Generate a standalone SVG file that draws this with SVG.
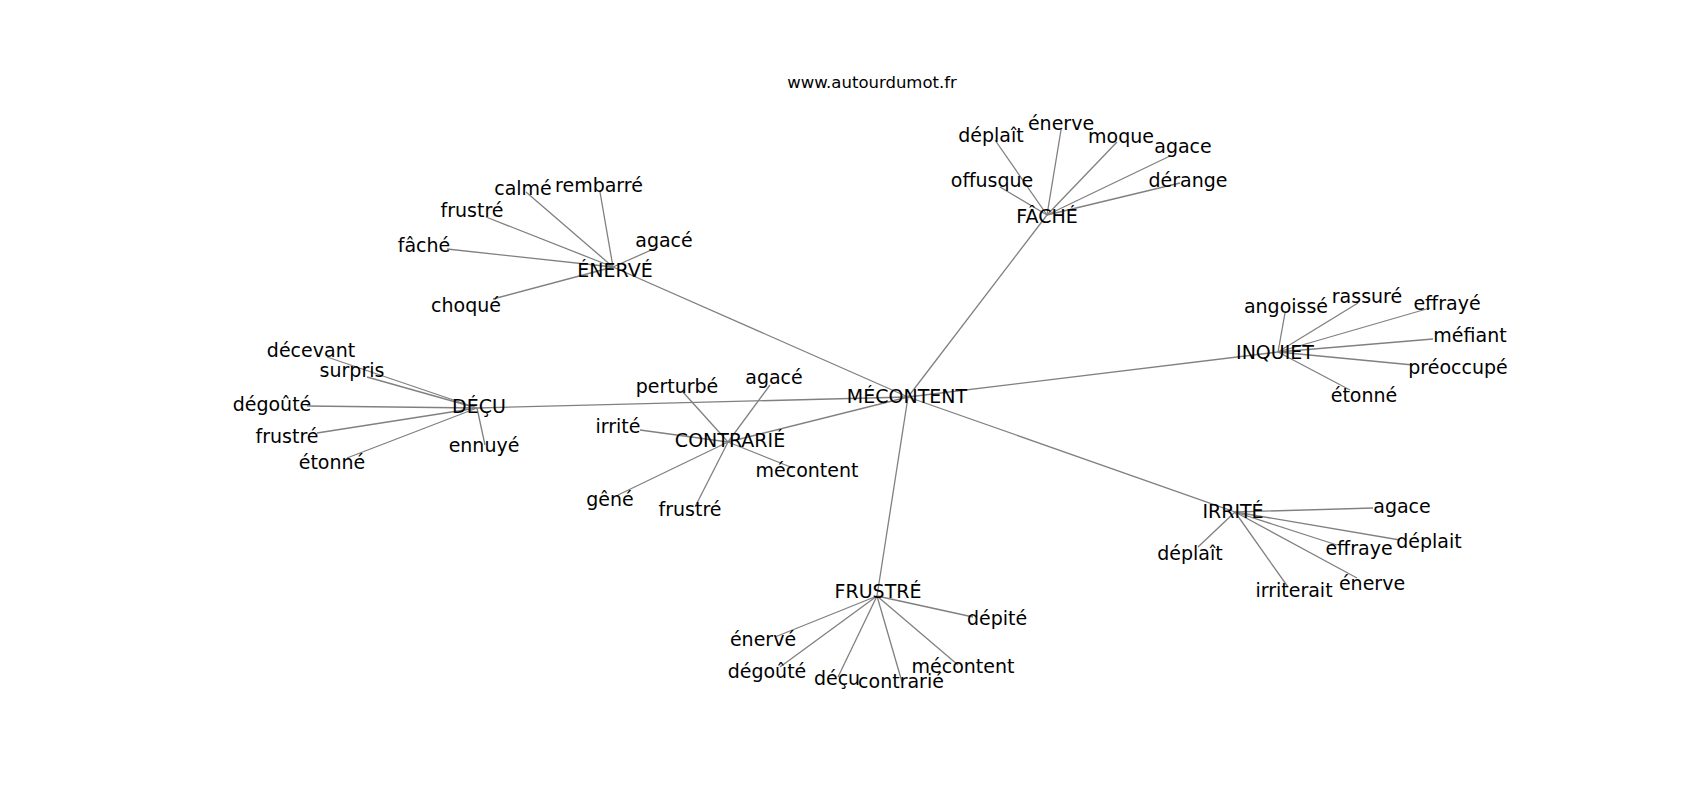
<svg xmlns="http://www.w3.org/2000/svg" width="1700" height="800" viewBox="0 0 1700 800">
<style>
.e{stroke:#808080;stroke-width:1.3;fill:none}
.t{font-family:"DejaVu Sans",sans-serif;font-size:19px;fill:#000;text-anchor:middle}
.title{font-family:"DejaVu Sans",sans-serif;font-size:16.5px;fill:#000;text-anchor:middle}
</style>
<rect width="1700" height="800" fill="#fff"/>
<text class="title" x="872" y="88">www.autourdumot.fr</text>
<g id="edges">
<line class="e" x1="908" y1="397" x2="613" y2="267"/>
<line class="e" x1="908" y1="397" x2="1047" y2="215"/>
<line class="e" x1="908" y1="397" x2="477" y2="408"/>
<line class="e" x1="908" y1="397" x2="728" y2="442"/>
<line class="e" x1="908" y1="397" x2="1278" y2="352"/>
<line class="e" x1="908" y1="397" x2="1235" y2="512"/>
<line class="e" x1="908" y1="397" x2="877" y2="596"/>
<line class="e" x1="613" y1="267" x2="526" y2="192"/>
<line class="e" x1="613" y1="267" x2="600" y2="192"/>
<line class="e" x1="613" y1="267" x2="486" y2="217"/>
<line class="e" x1="613" y1="267" x2="447" y2="249"/>
<line class="e" x1="613" y1="267" x2="658" y2="247"/>
<line class="e" x1="613" y1="267" x2="493" y2="299"/>
<line class="e" x1="1047" y1="215" x2="995" y2="140"/>
<line class="e" x1="1047" y1="215" x2="1061" y2="130"/>
<line class="e" x1="1047" y1="215" x2="1117" y2="142"/>
<line class="e" x1="1047" y1="215" x2="1170" y2="156"/>
<line class="e" x1="1047" y1="215" x2="1000" y2="187"/>
<line class="e" x1="1047" y1="215" x2="1180" y2="183"/>
<line class="e" x1="477" y1="408" x2="327" y2="357"/>
<line class="e" x1="477" y1="408" x2="367" y2="377"/>
<line class="e" x1="477" y1="408" x2="307" y2="406"/>
<line class="e" x1="477" y1="408" x2="317" y2="433"/>
<line class="e" x1="477" y1="408" x2="347" y2="458"/>
<line class="e" x1="477" y1="408" x2="485" y2="445"/>
<line class="e" x1="728" y1="442" x2="682" y2="391"/>
<line class="e" x1="728" y1="442" x2="770" y2="385"/>
<line class="e" x1="728" y1="442" x2="640" y2="430"/>
<line class="e" x1="728" y1="442" x2="793" y2="468"/>
<line class="e" x1="728" y1="442" x2="618" y2="495"/>
<line class="e" x1="728" y1="442" x2="695" y2="507"/>
<line class="e" x1="1278" y1="352" x2="1285" y2="313"/>
<line class="e" x1="1278" y1="352" x2="1358" y2="303"/>
<line class="e" x1="1278" y1="352" x2="1430" y2="308"/>
<line class="e" x1="1278" y1="352" x2="1433" y2="339"/>
<line class="e" x1="1278" y1="352" x2="1413" y2="365"/>
<line class="e" x1="1278" y1="352" x2="1350" y2="390"/>
<line class="e" x1="1235" y1="512" x2="1373" y2="508"/>
<line class="e" x1="1235" y1="512" x2="1400" y2="540"/>
<line class="e" x1="1235" y1="512" x2="1198" y2="547"/>
<line class="e" x1="1235" y1="512" x2="1337" y2="545"/>
<line class="e" x1="1235" y1="512" x2="1288" y2="587"/>
<line class="e" x1="1235" y1="512" x2="1357" y2="578"/>
<line class="e" x1="877" y1="596" x2="973" y2="617"/>
<line class="e" x1="877" y1="596" x2="775" y2="637"/>
<line class="e" x1="877" y1="596" x2="780" y2="667"/>
<line class="e" x1="877" y1="596" x2="838" y2="677"/>
<line class="e" x1="877" y1="596" x2="902" y2="682"/>
<line class="e" x1="877" y1="596" x2="958" y2="665"/>
</g>
<g id="n-mecontent"><text class="t" x="907" y="403">MÉCONTENT</text></g>
<g id="n-enerve"><text class="t" x="615" y="277">ÉNERVÉ</text></g>
<g id="n-enerve-calme"><text class="t" x="523" y="195">calmé</text></g>
<g id="n-enerve-rembarre"><text class="t" x="599" y="192">rembarré</text></g>
<g id="n-enerve-frustre"><text class="t" x="472" y="217">frustré</text></g>
<g id="n-enerve-fache"><text class="t" x="424" y="252">fâché</text></g>
<g id="n-enerve-agace"><text class="t" x="664" y="247">agacé</text></g>
<g id="n-enerve-choque"><text class="t" x="466" y="312">choqué</text></g>
<g id="n-fache"><text class="t" x="1047" y="223">FÂCHÉ</text></g>
<g id="n-fache-deplait"><text class="t" x="991" y="142">déplaît</text></g>
<g id="n-fache-enerve"><text class="t" x="1061" y="130">énerve</text></g>
<g id="n-fache-moque"><text class="t" x="1121" y="143">moque</text></g>
<g id="n-fache-agace"><text class="t" x="1183" y="153">agace</text></g>
<g id="n-fache-offusque"><text class="t" x="992" y="187">offusque</text></g>
<g id="n-fache-derange"><text class="t" x="1188" y="187">dérange</text></g>
<g id="n-decu"><text class="t" x="479" y="413">DÉÇU</text></g>
<g id="n-decu-decevant"><text class="t" x="311" y="357">décevant</text></g>
<g id="n-decu-surpris"><text class="t" x="352" y="377">surpris</text></g>
<g id="n-decu-degoute"><text class="t" x="272" y="411">dégoûté</text></g>
<g id="n-decu-frustre"><text class="t" x="287" y="443">frustré</text></g>
<g id="n-decu-etonne"><text class="t" x="332" y="469">étonné</text></g>
<g id="n-decu-ennuye"><text class="t" x="484" y="452">ennuyé</text></g>
<g id="n-contrarie"><text class="t" x="730" y="447">CONTRARIÉ</text></g>
<g id="n-contrarie-perturbe"><text class="t" x="677" y="393">perturbé</text></g>
<g id="n-contrarie-agace"><text class="t" x="774" y="384">agacé</text></g>
<g id="n-contrarie-irrite"><text class="t" x="618" y="433">irrité</text></g>
<g id="n-contrarie-mecontent"><text class="t" x="807" y="477">mécontent</text></g>
<g id="n-contrarie-gene"><text class="t" x="610" y="506">gêné</text></g>
<g id="n-contrarie-frustre"><text class="t" x="690" y="516">frustré</text></g>
<g id="n-inquiet"><text class="t" x="1275" y="359">INQUIET</text></g>
<g id="n-inquiet-angoisse"><text class="t" x="1286" y="313">angoissé</text></g>
<g id="n-inquiet-rassure"><text class="t" x="1367" y="303">rassuré</text></g>
<g id="n-inquiet-effraye"><text class="t" x="1447" y="310">effrayé</text></g>
<g id="n-inquiet-mefiant"><text class="t" x="1470" y="342">méfiant</text></g>
<g id="n-inquiet-preoccupe"><text class="t" x="1458" y="374">préoccupé</text></g>
<g id="n-inquiet-etonne"><text class="t" x="1364" y="402">étonné</text></g>
<g id="n-irrite"><text class="t" x="1233" y="518">IRRITÉ</text></g>
<g id="n-irrite-agace"><text class="t" x="1402" y="513">agace</text></g>
<g id="n-irrite-deplait"><text class="t" x="1429" y="548">déplait</text></g>
<g id="n-irrite-deplait2"><text class="t" x="1190" y="560">déplaît</text></g>
<g id="n-irrite-effraye"><text class="t" x="1359" y="555">effraye</text></g>
<g id="n-irrite-irriterait"><text class="t" x="1294" y="597">irriterait</text></g>
<g id="n-irrite-enerve"><text class="t" x="1372" y="590">énerve</text></g>
<g id="n-frustre"><text class="t" x="878" y="598">FRUSTRÉ</text></g>
<g id="n-frustre-depite"><text class="t" x="997" y="625">dépité</text></g>
<g id="n-frustre-enerve"><text class="t" x="763" y="646">énervé</text></g>
<g id="n-frustre-degoute"><text class="t" x="767" y="678">dégoûté</text></g>
<g id="n-frustre-decu"><text class="t" x="837" y="685">déçu</text></g>
<g id="n-frustre-contrarie"><text class="t" x="901" y="688">contrarié</text></g>
<g id="n-frustre-mecontent"><text class="t" x="963" y="673">mécontent</text></g>
</svg>
